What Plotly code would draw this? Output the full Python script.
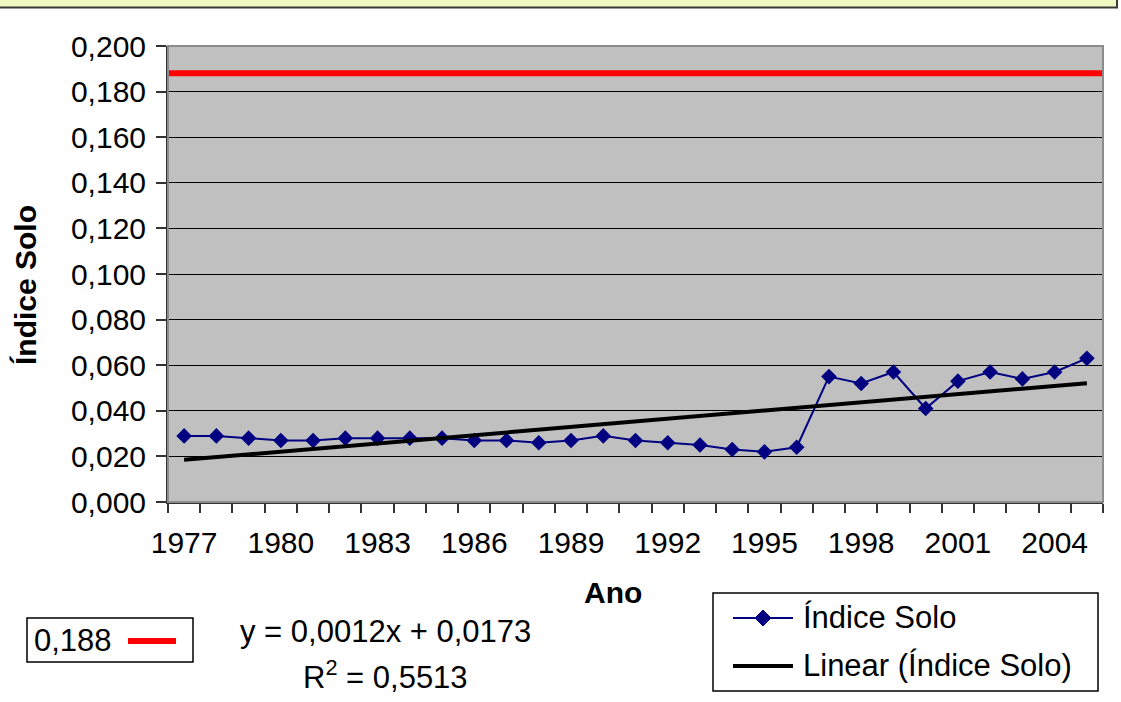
import plotly.graph_objects as go

# ---- data ----
years = [1977, 1978, 1979, 1980, 1981, 1982, 1983, 1984, 1985, 1986,
         1987, 1988, 1989, 1990, 1991, 1992, 1993, 1994, 1995, 1996,
         1997, 1998, 1999, 2000, 2001, 2002, 2003, 2004, 2005]
indice_solo = [0.029, 0.029, 0.028, 0.027, 0.027, 0.028, 0.028, 0.028, 0.028, 0.027,
               0.027, 0.026, 0.027, 0.029, 0.027, 0.026, 0.025, 0.023, 0.022, 0.024,
               0.055, 0.052, 0.057, 0.041, 0.053, 0.057, 0.054, 0.057, 0.063]
reference_value = 0.188
trend_slope = 0.0012
trend_intercept = 0.0173
trend_r2 = 0.5513
x_tick_years = [1977, 1980, 1983, 1986, 1989, 1992, 1995, 1998, 2001, 2004]
y_ticks = [0.0, 0.02, 0.04, 0.06, 0.08, 0.10, 0.12, 0.14, 0.16, 0.18, 0.20]

# trendline over the category index 1..N (Excel style)
trend_y = [trend_slope * (i + 1) + trend_intercept for i in range(len(years))]

W, H = 1121, 702
L, R, T, B = 168, 1103, 46, 502
FONT = "Liberation Sans, Arial, sans-serif"


def px(x):
    return (x - L) / (R - L)


def py(y):
    return (B - y) / (B - T)


def fmt(v, n):
    return f"{v:.{n}f}".replace(".", ",")


fig = go.Figure()

fig.add_trace(go.Scatter(
    x=[years[0] - 0.5, years[-1] + 0.5], y=[reference_value, reference_value],
    mode="lines", line=dict(color="#FF0000", width=6), showlegend=False,
    hoverinfo="skip"))

fig.add_trace(go.Scatter(
    x=years, y=indice_solo, mode="lines+markers", name="Índice Solo",
    line=dict(color="#000080", width=2),
    marker=dict(symbol="diamond", size=12, color="#000080"),
    showlegend=False))

fig.add_trace(go.Scatter(
    x=years, y=trend_y, mode="lines", name="Linear (Índice Solo)",
    line=dict(color="#000000", width=4), showlegend=False))

shapes = []
# top strip
shapes.append(dict(type="rect", xref="paper", yref="paper",
                   x0=px(-3), x1=px(1117), y0=py(-3), y1=py(7.5),
                   fillcolor="#EEF8C0", line=dict(color="#3A3A3A", width=2),
                   layer="above"))
# plot border (top/right grey)
shapes.append(dict(type="rect", xref="paper", yref="paper",
                   x0=0, x1=1, y0=0, y1=1,
                   line=dict(color="#8C8C8C", width=2), layer="above"))

# left "0,188" box
shapes.append(dict(type="rect", xref="paper", yref="paper",
                   x0=px(27), x1=px(193), y0=py(618), y1=py(662),
                   line=dict(color="#000000", width=1.5)))
shapes.append(dict(type="line", xref="paper", yref="paper",
                   x0=px(128), x1=px(176), y0=py(641), y1=py(641),
                   line=dict(color="#FF0000", width=6)))

# legend box
shapes.append(dict(type="rect", xref="paper", yref="paper",
                   x0=px(713), x1=px(1098), y0=py(593), y1=py(691),
                   line=dict(color="#000000", width=1.5)))
shapes.append(dict(type="line", xref="paper", yref="paper",
                   x0=px(733), x1=px(793), y0=py(618), y1=py(618),
                   line=dict(color="#000080", width=2)))
d = 8
path = (f"M {px(763 - d)} {py(618)} L {px(763)} {py(618 - d)} "
        f"L {px(763 + d)} {py(618)} L {px(763)} {py(618 + d)} Z")
shapes.append(dict(type="path", xref="paper", yref="paper", path=path,
                   fillcolor="#000080", line=dict(color="#000080", width=1)))
shapes.append(dict(type="line", xref="paper", yref="paper",
                   x0=px(733), x1=px(793), y0=py(666), y1=py(666),
                   line=dict(color="#000000", width=4)))

annotations = []


def ann(text, x, y, size=28, bold=False, xanchor="center", angle=0):
    annotations.append(dict(
        text=f"<b>{text}</b>" if bold else text, xref="paper", yref="paper",
        x=px(x), y=py(y), xanchor=xanchor, yanchor="middle", showarrow=False,
        textangle=angle, font=dict(family=FONT, size=size, color="#000000")))


ann("Ano", 613, 592, size=30, bold=True)
ann("Índice Solo", 25, 285, size=30, bold=True, angle=-90)
ann(fmt(reference_value, 3), 32, 640, size=31, xanchor="left")
ann(f"y = {fmt(trend_slope, 4)}x + {fmt(trend_intercept, 4)}", 385, 631, size=31)
ann(f"R<sup>2</sup> = {fmt(trend_r2, 4)}", 385, 675, size=31)
ann("Índice Solo", 801, 617, size=31, xanchor="left")
ann("Linear (Índice Solo)", 801, 665, size=31, xanchor="left")

fig.update_layout(
    width=W, height=H,
    margin=dict(l=L, r=W - R, t=T, b=H - B, autoexpand=False),
    paper_bgcolor="#FFFFFF", plot_bgcolor="#C0C0C0",
    separators=",.",
    font=dict(family=FONT, size=30, color="#000000"),
    shapes=shapes, annotations=annotations,
    xaxis=dict(
        range=[years[0] - 0.5, years[-1] + 0.5],
        tickmode="array", tickvals=x_tick_years,
        ticktext=[str(y) for y in x_tick_years],
        ticks="", showgrid=False, zeroline=False,
        showline=True, linecolor="#333333", linewidth=2,
        minor=dict(ticks="outside", tick0=years[0] - 0.5, dtick=1,
                   ticklen=9, tickcolor="#333333", tickwidth=1.5, showgrid=False),
        tickfont=dict(family=FONT, size=30), automargin=False,
        ticklabelstandoff=13,
    ),
    yaxis=dict(
        range=[0, 0.2], tickmode="array", tickvals=y_ticks,
        tickformat=".3f", ticks="outside", ticklen=10,
        tickcolor="#333333", tickwidth=1.5,
        showgrid=True, gridcolor="#000000", gridwidth=1,
        zeroline=False, showline=True, linecolor="#333333", linewidth=2,
        tickfont=dict(family=FONT, size=30), automargin=False,
        ticklabelstandoff=4,
    ),
)

fig.write_html(
    "out.html",
    config={"displayModeBar": False},
    post_script="document.body.style.margin='0';document.body.style.padding='0';")
